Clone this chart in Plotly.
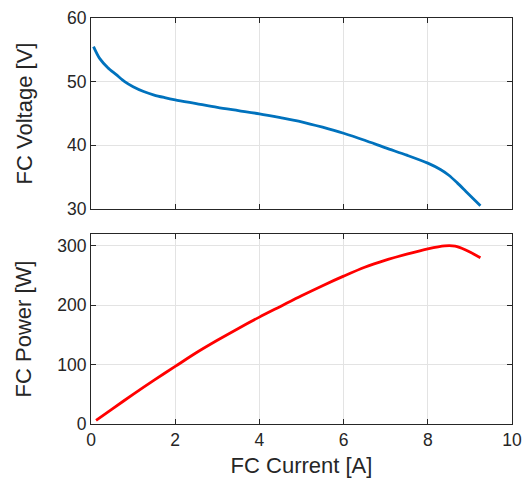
import plotly.graph_objects as go
from plotly.subplots import make_subplots

current_v = [0.06, 0.2, 0.4, 0.6, 0.8, 1.0, 1.25, 1.5, 1.75, 2.0, 2.5, 3.0, 3.5, 4.0, 4.5, 5.0,
             5.5, 6.0, 6.5, 7.0, 7.5, 8.0, 8.3, 8.5, 8.7, 8.9, 9.25]
voltage = [55.5, 53.7, 52.2, 51.1, 50.0, 49.2, 48.45, 47.9, 47.5, 47.15, 46.55, 45.95, 45.45, 44.95,
           44.35, 43.7, 42.85, 41.9, 40.8, 39.6, 38.45, 37.2, 36.2, 35.3, 34.1, 32.8, 30.5]

current_p = [0.12, 0.5, 1.0, 1.5, 2.0, 2.5, 3.0, 3.5, 4.0, 4.5, 5.0, 5.5, 6.0, 6.5, 7.0,
             7.5, 8.0, 8.4, 8.65, 8.9, 9.25]
power = [6, 25, 50, 74, 97, 120, 141, 161, 180, 198, 216, 233, 249, 264, 276,
         286, 295, 300, 299.5, 293, 280]

x_ticks = [0, 2, 4, 6, 8, 10]
v_ticks = [30, 40, 50, 60]
p_ticks = [0, 100, 200, 300]

axcol = "#262626"
gridcol = "#e3e3e3"
font = "Liberation Sans, Arial, sans-serif"

fig = make_subplots(rows=2, cols=1, shared_xaxes=False)
fig.add_trace(go.Scatter(x=current_v, y=voltage, mode="lines",
                         line=dict(color="#0072BD", width=2.8, shape="spline", smoothing=0.8),
                         showlegend=False), row=1, col=1)
fig.add_trace(go.Scatter(x=current_p, y=power, mode="lines",
                         line=dict(color="#FF0000", width=2.8, shape="spline", smoothing=0.8),
                         showlegend=False), row=2, col=1)

common_ax = dict(showline=True, linecolor=axcol, linewidth=1, mirror="ticks",
                 ticks="inside", ticklen=5, tickcolor=axcol, tickwidth=1,
                 showgrid=True, gridcolor=gridcol, gridwidth=1, zeroline=False,
                 automargin=False,
                 tickfont=dict(family=font, size=17.5, color=axcol))

fig.update_xaxes(common_ax)
fig.update_yaxes(common_ax)

title_font = dict(family=font, size=22, color=axcol)
fig.update_xaxes(range=[0, 10], tickvals=x_ticks, showticklabels=False, domain=[0, 1], row=1, col=1)
fig.update_xaxes(range=[0, 10], tickvals=x_ticks, domain=[0, 1], row=2, col=1,
                 title=dict(text="FC Current [A]", font=title_font, standoff=8))
fig.update_yaxes(range=[30, 60], tickvals=v_ticks, domain=[0.5296, 1], row=1, col=1,
                 title=dict(text="FC Voltage [V]", font=title_font, standoff=28))
fig.update_yaxes(range=[0, 320], tickvals=p_ticks, domain=[0, 0.468], row=2, col=1,
                 title=dict(text="FC Power [W]", font=title_font, standoff=19))

fig.update_layout(width=527, height=489, margin=dict(l=91, r=15, t=18, b=65),
                  paper_bgcolor="white", plot_bgcolor="white")

fig.write_html("out.html")
